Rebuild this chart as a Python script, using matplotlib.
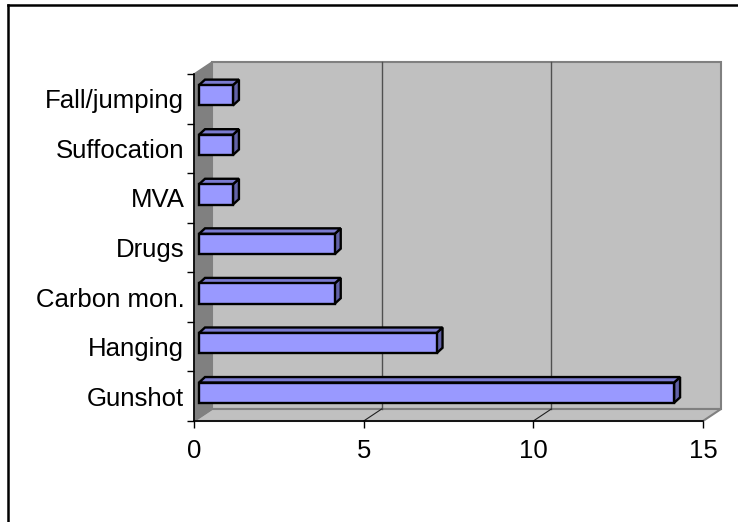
import matplotlib.pyplot as plt
from matplotlib.patches import Polygon
from matplotlib.lines import Line2D
from matplotlib.transforms import IdentityTransform

# data (bottom to top)
causes = ["Gunshot", "Hanging", "Carbon mon.", "Drugs", "MVA", "Suffocation", "Fall/jumping"]
counts = [14, 7, 4, 4, 1, 1, 1]
x_ticks = [0, 5, 10, 15]
grid_vals = [5, 10]

plt.rcParams['font.family'] = ['Liberation Sans', 'DejaVu Sans']

W, H = 738, 522
fig = plt.figure(figsize=(W / 100, H / 100), dpi=100)
ax = fig.add_axes([194 / W, 101 / H, 509 / W, 347 / H])
ax.set_xlim(0, 15)
ax.set_ylim(-0.5, len(causes) - 0.5)
ax.set_facecolor('none')

# 3d look: pixel offsets for the plot box depth and bar depth
WALL = (18, 12)
FRONT = (5, 3.5)
BACK = (11, 9)
BAR_H = 0.41
y_lo, y_hi = -0.5, len(causes) - 0.5


def pt(x, y, off=(0, 0)):
    X, Y = ax.transData.transform((x, y))
    return (X + off[0], Y + off[1])


def poly(points, z, **kw):
    ax.add_patch(Polygon(points, closed=True, transform=IdentityTransform(),
                         clip_on=False, zorder=z, **kw))


def seg(p, q, z, **kw):
    ax.add_line(Line2D([p[0], q[0]], [p[1], q[1]], transform=IdentityTransform(),
                       clip_on=False, zorder=z, **kw))


# walls and floor
poly([pt(0, y_lo, WALL), pt(15, y_lo, WALL), pt(15, y_hi, WALL), pt(0, y_hi, WALL)], 0.5,
     facecolor='#C0C0C0', edgecolor='#808080', linewidth=1.5)
poly([pt(0, y_lo), pt(15, y_lo), pt(15, y_lo, WALL), pt(0, y_lo, WALL)], 0.6,
     facecolor='#C0C0C0', edgecolor='#808080', linewidth=1.5)
poly([pt(0, y_lo), pt(0, y_lo, WALL), pt(0, y_hi, WALL), pt(0, y_hi)], 0.7,
     facecolor='#808080', edgecolor='#808080', linewidth=1)

# gridlines on the back wall and floor
for g in grid_vals:
    seg(pt(g, y_lo, WALL), pt(g, y_hi, WALL), 0.8, color='#505050', linewidth=1)
    seg(pt(g, y_lo), pt(g, y_lo, WALL), 0.8, color='#202020', linewidth=0.8)

# bars
for i, v in enumerate(counts):
    y0, y1 = i - BAR_H / 2, i + BAR_H / 2
    kw = dict(edgecolor='black', linewidth=1.7, joinstyle='miter')
    poly([pt(v, y0, FRONT), pt(v, y0, BACK), pt(v, y1, BACK), pt(v, y1, FRONT)], 2,
         facecolor='#6262A8', **kw)
    poly([pt(0, y1, FRONT), pt(v, y1, FRONT), pt(v, y1, BACK), pt(0, y1, BACK)], 2,
         facecolor='#7B7BD0', **kw)
    poly([pt(0, y0, FRONT), pt(v, y0, FRONT), pt(v, y1, FRONT), pt(0, y1, FRONT)], 2.1,
         facecolor='#9999FF', **kw)

# axes, ticks, labels
for s in ['top', 'right']:
    ax.spines[s].set_visible(False)
for s in ['left', 'bottom']:
    ax.spines[s].set_color('black')
    ax.spines[s].set_linewidth(1.2)
    ax.spines[s].set_zorder(3)

ax.set_xticks(x_ticks)
ax.set_xticklabels([str(t) for t in x_ticks])
ax.set_yticks(range(len(causes)))
ax.set_yticklabels(causes)
ax.set_yticks([k - 0.5 for k in range(len(causes) + 1)], minor=True)
ax.tick_params(axis='x', direction='out', length=5, width=1, pad=8, labelsize=18.5)
ax.tick_params(axis='y', which='major', length=0, pad=7, labelsize=18.5)
ax.tick_params(axis='y', which='minor', direction='out', length=5, width=1)

# outer chart frame (top and left edges)
fig.add_artist(Line2D([8 / W, 8 / W], [0, 1 - 5 / H], transform=fig.transFigure,
                      color='black', linewidth=1.8))
fig.add_artist(Line2D([8 / W, 1], [1 - 5 / H, 1 - 5 / H], transform=fig.transFigure,
                      color='black', linewidth=1.8))

fig.savefig('out.png', dpi=100)
